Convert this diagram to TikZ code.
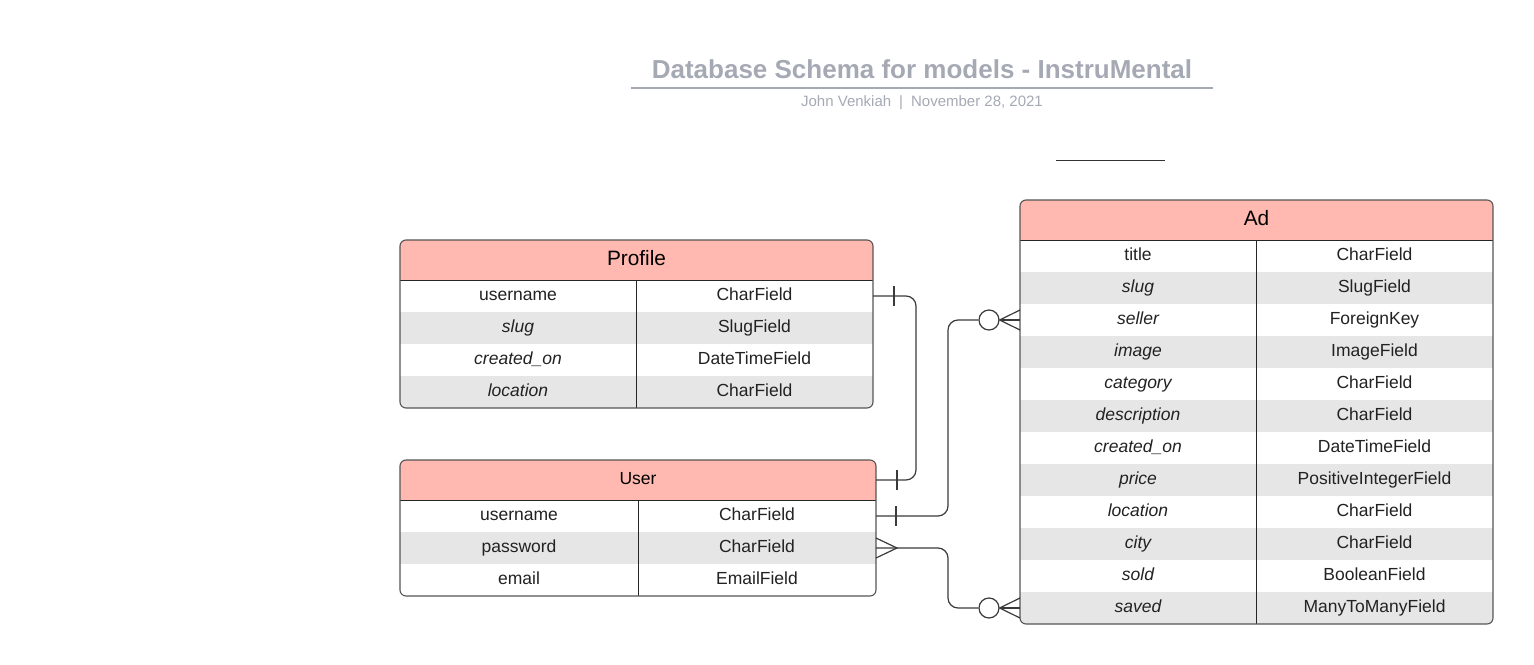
\documentclass[tikz,border=0pt]{standalone}
\usepackage{fontspec}
\setmainfont{Liberation Sans}
\usetikzlibrary{calc}
\definecolor{hdr}{HTML}{FFB9B0}
\definecolor{stripe}{HTML}{E6E6E6}
\definecolor{tgray}{HTML}{A5A9B4}
\definecolor{sgray}{HTML}{A5A9B4}
\definecolor{bord}{HTML}{555555}
\definecolor{lnk}{HTML}{3A3A3A}
\definecolor{txt}{HTML}{222222}
\newcommand\rowfont{\fontsize{17.5}{20}\selectfont}
\newcommand\hdrfont{\fontsize{20.8}{24}\selectfont}
% \myrow{name}{xleft}{xmid}{xright}{ytop}{fill}{left}{right}
\newcommand\myrow[8]{%
  \node[cellbox, fill=#6, minimum width={#3-#2}, anchor=north west] (#1l) at (#2,#5) {#7};
  \node[cellbox, fill=#6, minimum width={#4-#3}, anchor=north west] (#1r) at (#3,#5) {#8};
}
\begin{document}
\begin{tikzpicture}[x=1pt,y=-1pt,
  cellbox/.style={rectangle, inner sep=0pt, outer sep=0pt, minimum height=32pt, text height=13.5pt, text depth=4.5pt, font=\rowfont, text=txt},
  hdrbox/.style={rectangle, inner sep=0pt, outer sep=0pt, minimum height=40pt, fill=hdr, text=black},
  tblout/.style={draw=bord, line width=1.1pt, rounded corners=6pt},
  tblline/.style={draw=black!85, line width=0.9pt},
  conn/.style={draw=lnk, line width=1.2pt, rounded corners=10pt},
  tickline/.style={draw=lnk, line width=1.2pt},
  ring/.style={circle, draw=lnk, line width=1.2pt, fill=white, minimum size=20pt, inner sep=0pt}]
\useasboundingbox (0,0) rectangle (1534,664);

% Title
\node[font=\bfseries\fontsize{26}{30}\selectfont, text=tgray] (title) at (922,69) {Database Schema for models - InstruMental};
\coordinate (ul1) at (631,88);
\coordinate (ul2) at (1213,88);
\draw[tgray, line width=1.8pt] (ul1) -- (ul2);
\node[font=\fontsize{15}{17}\selectfont, text=sgray] (sub) at (922,103) {John Venkiah\hspace{8pt}|\hspace{8pt}November 28, 2021};
\coordinate (sl1) at (1056,160);
\coordinate (sl2) at (1165,160);
\draw[black!80, line width=0.8pt] (sl1) -- (sl2);

% Profile table
\begin{scope}
\clip[rounded corners=6pt] (400,240) rectangle (873,408);
\node[hdrbox, minimum width=473pt, anchor=north west, font=\hdrfont, text height=15pt, text depth=5pt] (ph) at (400,240) {Profile};
\myrow{pr1}{400}{636}{873}{280}{white}{username}{CharField}
\myrow{pr2}{400}{636}{873}{312}{stripe}{\itshape slug}{SlugField}
\myrow{pr3}{400}{636}{873}{344}{white}{\itshape created\_on}{DateTimeField}
\myrow{pr4}{400}{636}{873}{376}{stripe}{\itshape location}{CharField}
\end{scope}
\draw[tblline] (ph.south west) -- (ph.south east);
\draw[tblline] (pr1r.north west) -- (pr4r.south west);
\draw[tblout] (400,240) rectangle (873,408);

% User table
\begin{scope}
\clip[rounded corners=6pt] (400,460) rectangle (876,596);
\node[hdrbox, minimum width=476pt, anchor=north west, font=\rowfont, text height=13.5pt, text depth=4.5pt] (uh) at (400,460) {User};
\myrow{ur1}{400}{638}{876}{500}{white}{username}{CharField}
\myrow{ur2}{400}{638}{876}{532}{stripe}{password}{CharField}
\myrow{ur3}{400}{638}{876}{564}{white}{email}{EmailField}
\end{scope}
\draw[tblline] (uh.south west) -- (uh.south east);
\draw[tblline] (ur1r.north west) -- (ur3r.south west);
\draw[tblout] (400,460) rectangle (876,596);

% Ad table
\begin{scope}
\clip[rounded corners=6pt] (1020,200) rectangle (1493,624);
\node[hdrbox, minimum width=473pt, anchor=north west, font=\hdrfont, text height=15pt, text depth=5pt] (ah) at (1020,200) {Ad};
\myrow{ar1}{1020}{1256}{1493}{240}{white}{title}{CharField}
\myrow{ar2}{1020}{1256}{1493}{272}{stripe}{\itshape slug}{SlugField}
\myrow{ar3}{1020}{1256}{1493}{304}{white}{\itshape seller}{ForeignKey}
\myrow{ar4}{1020}{1256}{1493}{336}{stripe}{\itshape image}{ImageField}
\myrow{ar5}{1020}{1256}{1493}{368}{white}{\itshape category}{CharField}
\myrow{ar6}{1020}{1256}{1493}{400}{stripe}{\itshape description}{CharField}
\myrow{ar7}{1020}{1256}{1493}{432}{white}{\itshape created\_on}{DateTimeField}
\myrow{ar8}{1020}{1256}{1493}{464}{stripe}{\itshape price}{PositiveIntegerField}
\myrow{ar9}{1020}{1256}{1493}{496}{white}{\itshape location}{CharField}
\myrow{ar10}{1020}{1256}{1493}{528}{stripe}{\itshape city}{CharField}
\myrow{ar11}{1020}{1256}{1493}{560}{white}{\itshape sold}{BooleanField}
\myrow{ar12}{1020}{1256}{1493}{592}{stripe}{\itshape saved}{ManyToManyField}
\end{scope}
\draw[tblline] (ah.south west) -- (ah.south east);
\draw[tblline] (ar1r.north west) -- (ar12r.south west);
\draw[tblout] (1020,200) rectangle (1493,624);

% Connector: Profile -- User (one to one)
\draw[conn] (pr1r.east) -- ++(43,0) |- (uh.east);
\draw[tickline] ($(pr1r.east)+(21,-10)$) -- ++(0,20);
\draw[tickline] ($(uh.east)+(21,-10)$) -- ++(0,20);

% Connector: User.username -- Ad.seller
\node[ring] (c1) at (989,320) {};
\draw[conn] (ur1r.east) -- ++(72,0) |- (c1.west);
\draw[tickline] ($(ur1r.east)+(20,-10)$) -- ++(0,20);
\draw[tickline] ($(ar3l.west)+(0,-10)$) -- (c1.east) -- ($(ar3l.west)+(0,10)$);
\draw[tickline] (c1.east) -- (ar3l.west);

% Connector: User.password -- Ad.saved
\node[ring] (c2) at (989,608) {};
\coordinate (cf) at ($(ur2r.east)+(21,0)$);
\draw[conn] (ur2r.east) -- ++(72,0) |- (c2.west);
\draw[tickline] ($(ur2r.east)+(0,-10)$) -- (cf) -- ($(ur2r.east)+(0,10)$);
\draw[tickline] ($(ar12l.west)+(0,-10)$) -- (c2.east) -- ($(ar12l.west)+(0,10)$);
\draw[tickline] (c2.east) -- (ar12l.west);
\end{tikzpicture}
\end{document}
